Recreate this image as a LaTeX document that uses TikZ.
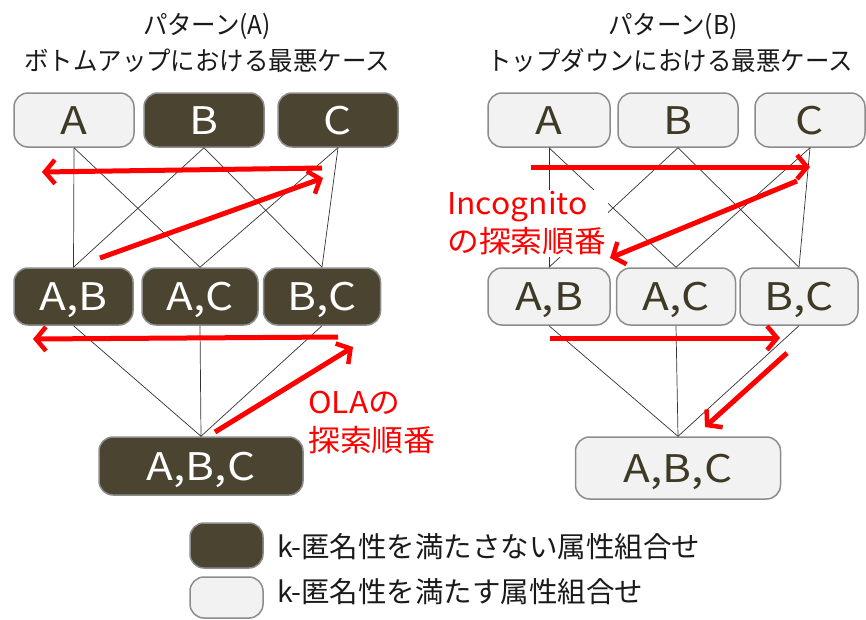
\documentclass[tikz,border=0pt]{standalone}
\usepackage{fontspec}
\setmainfont{Noto Sans CJK JP}
\newfontfamily\boxfont[FakeStretch=1.16]{Noto Sans CJK JP}
\newfontfamily\lblfont[FakeStretch=1.06]{Noto Sans CJK JP}
\newfontfamily\titlefont[FakeStretch=0.94]{Noto Sans CJK JP}
\usetikzlibrary{arrows.meta}
\definecolor{darkbox}{HTML}{4A4431}
\definecolor{lightbox}{HTML}{F2F2F2}
\definecolor{boxedge}{HTML}{8C8C8C}
\definecolor{lighttext}{HTML}{3F3A25}
\definecolor{arrowred}{HTML}{FF0000}
\definecolor{inktext}{HTML}{1A1A1A}
\begin{document}
\begin{tikzpicture}[x=1pt,y=-1pt,
  box/.style={rounded corners=14pt, draw=boxedge, line width=1.5pt, minimum height=54pt,
    inner sep=0pt, text height=28pt, text depth=0pt, font=\boxfont\fontsize{38}{40}\selectfont},
  ngbox/.style={box, fill=darkbox, text=white},
  okbox/.style={box, fill=lightbox, text=lighttext},
  edge/.style={draw=black!80, line width=0.7pt},
  order/.style={draw=arrowred, line width=5pt,
    -{Straight Barb[length=10pt,width=24pt,line width=4.5pt]}},
  lbl/.style={text=arrowred, font=\lblfont\fontsize{30}{38}\selectfont, align=left, inner sep=2pt, anchor=west},
  title/.style={text=inktext, font=\titlefont\fontsize{26}{30}\selectfont, inner sep=0pt},
  legtext/.style={text=inktext, font=\fontsize{28.5}{32}\selectfont, inner sep=0pt, anchor=west}]
\useasboundingbox (0,0) rectangle (866,619);

% titles
\node[title] (tA1) at (207,26) {パターン(A)};
\node[title] (tA2) at (207,61) {ボトムアップにおける最悪ケース};
\node[title] (tB1) at (673,26) {パターン(B)};
\node[title] (tB2) at (670,61) {トップダウンにおける最悪ケース};

% left lattice
\node[okbox, minimum width=120pt] (LA) at (74,120) {A};
\node[ngbox, minimum width=120pt] (LB) at (204,120) {B};
\node[ngbox, minimum width=120pt] (LC) at (338,120) {C};
\node[ngbox, minimum width=119pt, minimum height=57pt] (LAB) at (73.5,296.5) {A,B};
\node[ngbox, minimum width=116pt, minimum height=57pt] (LAC) at (200,296.5) {A,C};
\node[ngbox, minimum width=117pt, minimum height=57pt] (LBC) at (322,296.5) {B,C};
\node[ngbox, minimum width=204pt, minimum height=58pt] (LABC) at (201,466) {A,B,C};

% right lattice
\node[okbox, minimum width=122pt] (RA) at (549,120) {A};
\node[okbox, minimum width=120pt] (RB) at (678,120) {B};
\node[okbox, minimum width=110pt] (RC) at (810,120) {C};
\node[okbox, minimum width=122pt, minimum height=57pt] (RAB) at (549,296.5) {A,B};
\node[okbox, minimum width=119pt, minimum height=57pt] (RAC) at (676,296.5) {A,C};
\node[okbox, minimum width=118pt, minimum height=57pt] (RBC) at (799,296.5) {B,C};
\node[okbox, minimum width=205pt, minimum height=62pt] (RABC) at (678,468) {A,B,C};

% lattice edges
\draw[edge] (LA.south) -- (LAB.north);
\draw[edge] (LA.south) -- (LAC.north);
\draw[edge] (LB.south) -- (LAB.north);
\draw[edge] (LB.south) -- (LBC.north);
\draw[edge] (LC.south) -- (LAC.north);
\draw[edge] (LC.south) -- (LBC.north);
\draw[edge] (LAB.south) -- (LABC.north);
\draw[edge] (LAC.south) -- (LABC.north);
\draw[edge] (LBC.south) -- (LABC.north);

\draw[edge] (RA.south) -- (RAB.north);
\draw[edge] (RA.south) -- (RAC.north);
\draw[edge] (RB.south) -- (RAB.north);
\draw[edge] (RB.south) -- (RBC.north);
\draw[edge] (RC.south) -- (RAC.north);
\draw[edge] (RC.south) -- (RBC.north);
\draw[edge] (RAB.south) -- (RABC.north);
\draw[edge] (RAC.south) -- (RABC.north);
\draw[edge] (RBC.south) -- (RABC.north);

% labels
\node[lbl] (olalbl) at (306,422.5) {OLAの\\探索順番};
\node[lbl, fill=white] (inclbl) at (445,223.5) {Incognito\\の探索順番};

% search-order arrows
\coordinate (la1s) at (322,168); \coordinate (la1e) at (42,172);
\coordinate (la2s) at (100,258); \coordinate (la2e) at (323,178);
\coordinate (la3s) at (338,337); \coordinate (la3e) at (33,339);
\coordinate (la4s) at (215,432); \coordinate (la4e) at (353,347);
\coordinate (ra1s) at (531,167); \coordinate (ra1e) at (810,167);
\coordinate (ra2s) at (797,181); \coordinate (ra2e) at (610,258);
\coordinate (ra3s) at (550,338); \coordinate (ra3e) at (780,338);
\coordinate (ra4s) at (787,353); \coordinate (ra4e) at (705,427);
\draw[order] (la1s) -- (la1e);
\draw[order] (la2s) -- (la2e);
\draw[order] (la3s) -- (la3e);
\draw[order] (la4s) -- (la4e);
\draw[order] (ra1s) -- (ra1e);
\draw[order] (ra2s) -- (ra2e);
\draw[order] (ra3s) -- (ra3e);
\draw[order] (ra4s) -- (ra4e);

% legend
\node[box, fill=darkbox, minimum width=73pt, minimum height=45pt] (legng) at (226.5,545.5) {};
\node[box, fill=lightbox, minimum width=73pt, minimum height=41pt] (legok) at (226.5,597.5) {};
\node[legtext] (legngt) at (277,546.5) {k-匿名性を満たさない属性組合せ};
\node[legtext] (legokt) at (277,591.5) {k-匿名性を満たす属性組合せ};
\end{tikzpicture}
\end{document}
